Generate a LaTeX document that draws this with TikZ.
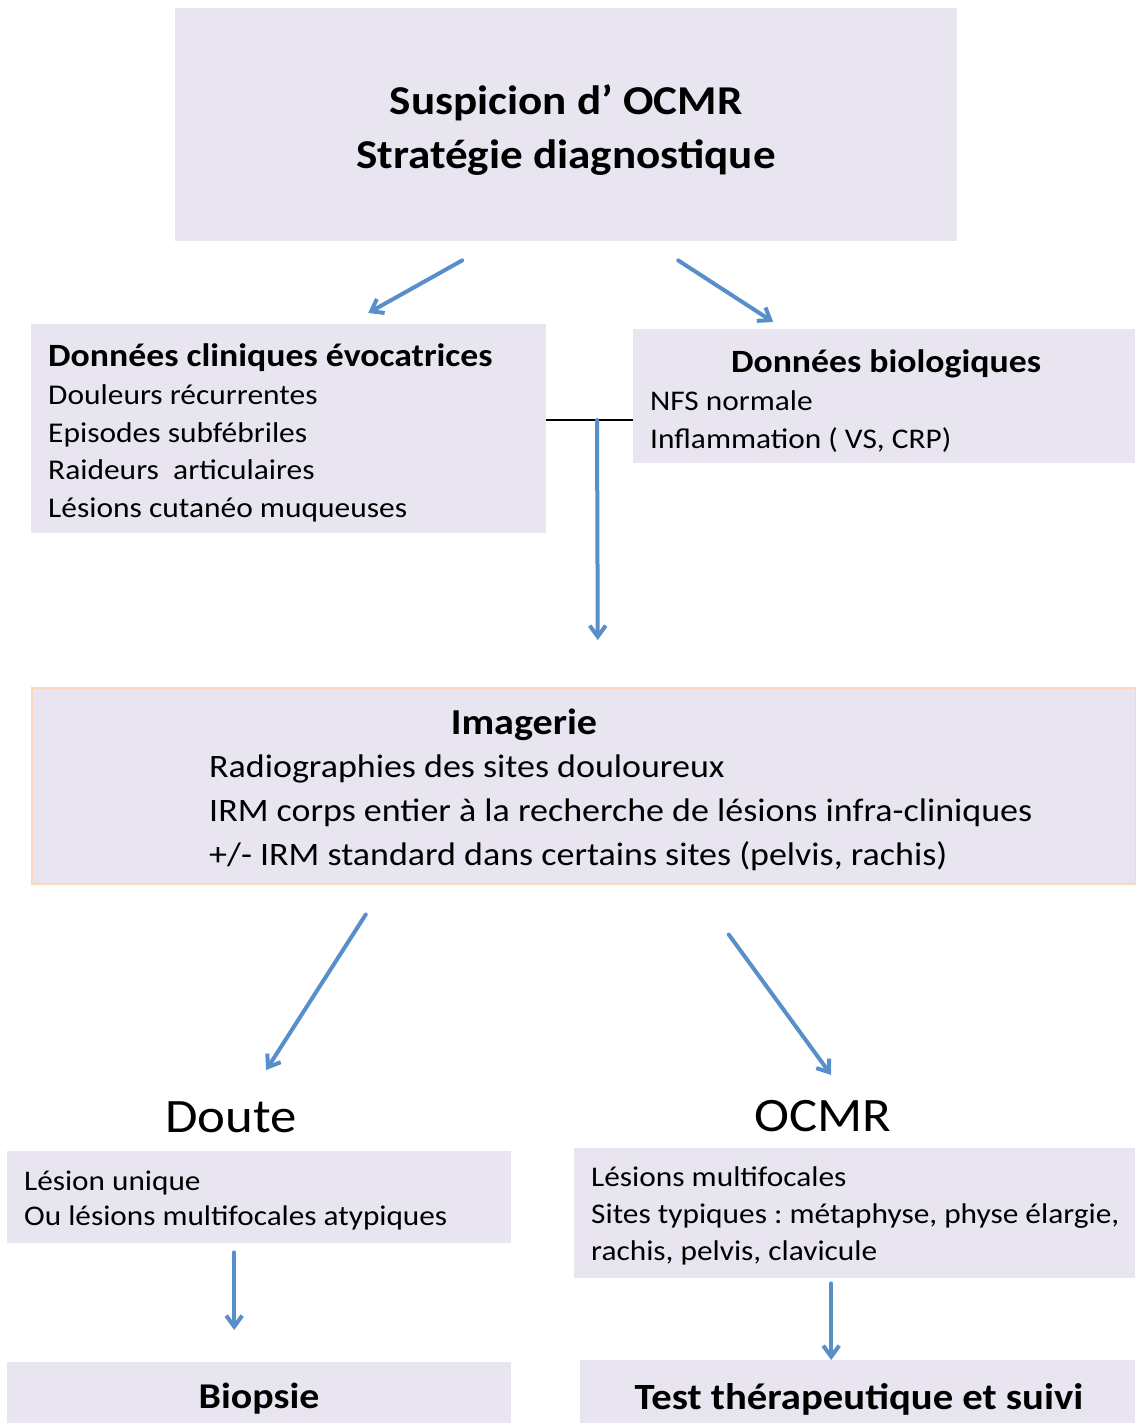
\documentclass[tikz,border=0pt]{standalone}
\usepackage{fontspec}
\setmainfont{Carlito}[FakeStretch=1.1]
\usepackage{xcolor}
\usetikzlibrary{arrows.meta}
\definecolor{boxfill}{RGB}{233,229,240}
\definecolor{arrowblue}{RGB}{88,142,201}
\definecolor{peach}{RGB}{250,215,190}
\frenchspacing

\begin{document}
\begin{tikzpicture}[x=1pt,y=-1pt,
  box/.style={fill=boxfill, inner sep=0pt, anchor=north west},
  arr/.style={draw=arrowblue, line width=4pt, line cap=round, -{Straight Barb[length=11pt,width=16pt]}},
  link/.style={draw=black, line width=1.2pt},
  body/.style={inner sep=0pt, align=left, anchor=west}]
\useasboundingbox (0,0) rectangle (1135,1423);
% boxes
\node[box, minimum width=782pt, minimum height=233pt] (title) at (175,8) {};
\node[box, minimum width=515pt, minimum height=209pt] (clin) at (31,324) {};
\node[box, minimum width=502pt, minimum height=134pt] (bio) at (633,329) {};
\node[box, draw=peach, line width=1.5pt, minimum width=1104pt, minimum height=196pt] (imag) at (31,687) {};
\node[box, minimum width=504pt, minimum height=92pt] (doutebox) at (7,1151) {};
\node[box, minimum width=561pt, minimum height=130pt] (ocmrbox) at (574,1148) {};
\node[box, minimum width=504pt, minimum height=61pt] (biop) at (7,1362) {};
\node[box, minimum width=555pt, minimum height=63pt] (test) at (580,1360) {};
% texts
\node[align=center, font=\fontsize{41}{54}\selectfont\bfseries] (titletxt) at (566,130)
  {Suspicion d’ OCMR\\Stratégie diagnostique};
\node[body, font=\fontsize{28.6}{37.7}\selectfont] (clintxt) at (48,433)
  {{\fontsize{32.5}{37.7}\selectfont\bfseries Données cliniques évocatrices}\\
   Douleurs récurrentes\\Episodes subfébriles\\Raideurs~ articulaires\\Lésions cutanéo muqueuses};
\node[font=\fontsize{32.5}{38}\selectfont\bfseries] (biohead) at (886,364) {Données biologiques};
\node[body, font=\fontsize{28.5}{38}\selectfont] (biotxt) at (650,422)
  {NFS normale\\Inflammation ( VS, CRP)};
\node[font=\fontsize{36.5}{44}\selectfont\bfseries] (imaghead) at (524,725) {Imagerie};
\node[body, font=\fontsize{32.7}{44}\selectfont] (imagtxt) at (209,813)
  {Radiographies des sites douloureux\\
   IRM corps entier à la recherche de lésions infra-cliniques\\
   +/- IRM standard dans certains sites (pelvis, rachis)};
\node[font=\fontsize{48}{56}\selectfont] (doute) at (231,1117) {Doute};
\node[font=\fontsize{48}{56}\selectfont] (ocmr) at (823,1116) {OCMR};
\node[body, font=\fontsize{28.4}{35.5}\selectfont] (doutetxt) at (24,1200.5)
  {Lésion unique\\Ou lésions multifocales atypiques};
\node[body, font=\fontsize{28.5}{37}\selectfont] (ocmrtxt) at (591,1215.5)
  {Lésions multifocales\\Sites typiques : métaphyse, physe élargie,\\rachis, pelvis, clavicule};
\node[font=\fontsize{36.3}{40}\selectfont\bfseries] (bioptxt) at (259,1399) {Biopsie};
\node[font=\fontsize{37}{40}\selectfont\bfseries] (testtxt) at (859,1399) {Test thérapeutique et suivi};
% connectors
\coordinate (junc) at (597,420);
\draw[arr] ([shift={(-104,19)}]title.south) -- ([shift={(79.5,-11)}]clin.north);
\draw[arr] ([shift={(112,19)}]title.south) -- ([shift={(-111,-7)}]bio.north);
\draw[link] (clin.east |- junc) -- (bio.west |- junc);
\draw[arr] (junc) -- ([shift={(14,-47)}]imag.north);
\draw[arr] ([shift={(-218,30)}]imag.south) -- ([shift={(7,-81)}]doutebox.north);
\draw[arr] ([shift={(145,50)}]imag.south) -- ([shift={(-23.5,-73)}]ocmrbox.north);
\draw[arr] ([shift={(-25,9)}]doutebox.south) -- ([shift={(-25,-32)}]biop.north);
\draw[arr] ([shift={(-23.5,5)}]ocmrbox.south) -- ([shift={(-26.5,0)}]test.north);
\end{tikzpicture}
\end{document}
